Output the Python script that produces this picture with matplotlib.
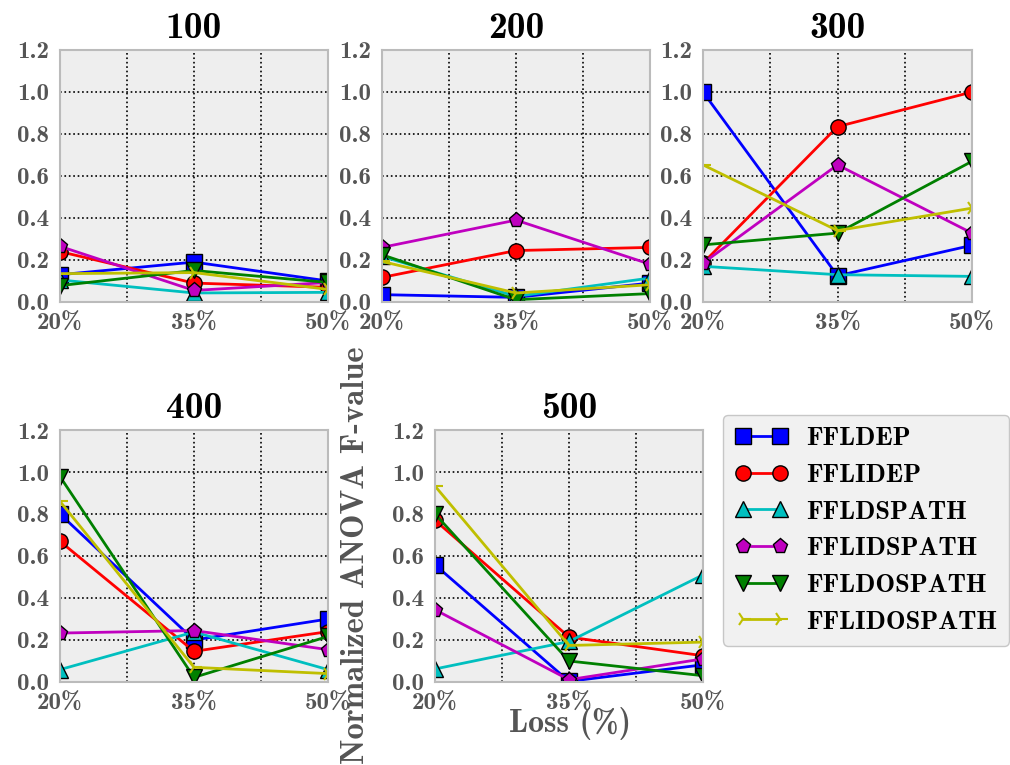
import matplotlib
matplotlib.use("Agg")
import matplotlib.pyplot as plt

plt.rcParams['font.family'] = ['cmb10', 'DejaVu Serif']
plt.rcParams['axes.unicode_minus'] = False

losses = ['20%', '35%', '50%']
series_names = ['FFLDEP', 'FFLIDEP', 'FFLDSPATH', 'FFLIDSPATH', 'FFLDOSPATH', 'FFLIDOSPATH']
colors = ['b', 'r', 'c', 'm', 'g', 'y']
markers = ['s', 'o', '^', 'p', 'v', '4']

panel_titles = ['100', '200', '300', '400', '500']

# values per panel, one row per series (order of series_names)
v100 = [[0.13, 0.19, 0.10],
        [0.24, 0.09, 0.07],
        [0.105, 0.043, 0.046],
        [0.265, 0.055, 0.093],
        [0.078, 0.15, 0.093],
        [0.135, 0.14, 0.06]]
v200 = [[0.035, 0.022, 0.09],
        [0.117, 0.245, 0.26],
        [0.217, 0.027, 0.114],
        [0.26, 0.39, 0.18],
        [0.225, 0.011, 0.04],
        [0.193, 0.043, 0.082]]
v300 = [[1.0, 0.125, 0.27],
        [0.185, 0.835, 1.0],
        [0.17, 0.13, 0.122],
        [0.185, 0.653, 0.328],
        [0.272, 0.328, 0.67],
        [0.653, 0.34, 0.447]]
v400 = [[0.80, 0.20, 0.30],
        [0.67, 0.146, 0.24],
        [0.059, 0.238, 0.059],
        [0.233, 0.245, 0.154],
        [0.978, 0.022, 0.217],
        [0.86, 0.07, 0.04]]
v500 = [[0.558, 0.003, 0.082],
        [0.77, 0.214, 0.125],
        [0.062, 0.193, 0.51],
        [0.344, 0.011, 0.11],
        [0.80, 0.10, 0.03],
        [0.933, 0.174, 0.19]]
panels = [v100, v200, v300, v400, v500]

W, H = 1010, 765
fig = plt.figure(figsize=(W / 100, H / 100), dpi=100)

# axes boxes in pixels: left, top, right, bottom
boxes = [(60, 50, 328, 302), (382, 50, 650, 302), (703, 50, 972, 302),
         (60, 430, 328, 682), (435, 430, 703, 682)]

tick_gray = '#555555'
frame_gray = '#bbbbbb'
lines = []
for i, (l, t, r, b) in enumerate(boxes):
    ax = fig.add_axes([l / W, 1 - b / H, (r - l) / W, (b - t) / H])
    ax.set_facecolor('#eeeeee')
    xs = range(len(losses))
    lines = []
    for vals, c, m, name in zip(panels[i], colors, markers, series_names):
        ln, = ax.plot(xs, vals, color=c, marker=m, markersize=11, lw=2,
                      markeredgecolor='k' if m != '4' else c,
                      markeredgewidth=1 if m != '4' else 1.5, label=name)
        lines.append(ln)
    ax.set_xlim(0, 2)
    ax.set_ylim(0, 1.2)
    ax.set_xticks([0, 0.5, 1, 1.5, 2])
    ax.set_xticklabels(['20%', '', '35%', '', '50%'])
    ax.set_yticks([0, 0.2, 0.4, 0.6, 0.8, 1.0, 1.2])
    ax.set_yticklabels(['0.0', '0.2', '0.4', '0.6', '0.8', '1.0', '1.2'])
    ax.tick_params(length=0, labelsize=18, colors=tick_gray, pad=8)
    ax.grid(True, color='k', linestyle=':', linewidth=1.2)
    ax.set_axisbelow(True)
    for s in ax.spines.values():
        s.set_color(frame_gray)
        s.set_linewidth(1.5)
    ax.set_title(panel_titles[i], fontsize=27, pad=9)

leg = fig.legend(lines, series_names, loc='upper left',
                 bbox_to_anchor=(723 / W, 1 - 415 / H), borderaxespad=0,
                 numpoints=2, fontsize=19, frameon=True, fancybox=True,
                 handlelength=2.0, handletextpad=0.7, labelspacing=0.5,
                 borderpad=0.45)
leg.get_frame().set_facecolor('#eeeeee')
leg.get_frame().set_edgecolor(frame_gray)

fig.text(355 / W, 1 - 555 / H, 'Normalized ANOVA F-value', rotation=90,
         ha='center', va='center', fontsize=23.5, color=tick_gray)
fig.text(570 / W, 1 - 723 / H, 'Loss (%)', ha='center', va='center',
         fontsize=23, color=tick_gray)

fig.savefig('out.png', dpi=100)
